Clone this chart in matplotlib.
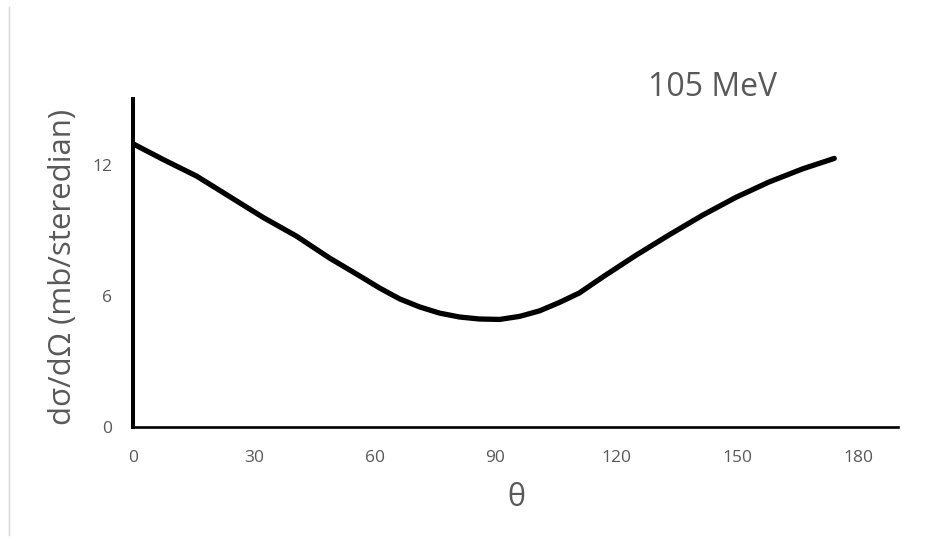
import matplotlib
matplotlib.use("Agg")
import matplotlib.pyplot as plt
from matplotlib.lines import Line2D

plt.rcParams['font.family'] = ['Open Sans', 'DejaVu Sans']

theta = [0, 7.5, 15.8, 24.1, 32.3, 40.6, 48.8, 57.1, 61.2, 66.2, 71.2, 76.1, 81.1, 86.0,
         91.0, 96.0, 100.9, 105.9, 110.8, 116.6, 124.9, 133.2, 141.4, 149.7, 157.9, 166.2, 174.1]
dsigma = [12.95, 12.23, 11.47, 10.52, 9.58, 8.72, 7.72, 6.81, 6.35, 5.85, 5.48, 5.20, 5.02, 4.93,
          4.91, 5.05, 5.30, 5.69, 6.12, 6.85, 7.85, 8.79, 9.68, 10.50, 11.20, 11.80, 12.28]
xticks = [0, 30, 60, 90, 120, 150, 180]
yticks = [0, 6, 12]
title = "105 MeV"
xlabel = "θ"
ylabel = "dσ/dΩ (mb/steredian)"

W, H = 933, 549
fig = plt.figure(figsize=(W / 100, H / 100), dpi=100)
ax = fig.add_axes([133 / W, 1 - 426.7 / H, (898.3 - 133) / W, (426.7 - 99) / H])

ax.plot(theta, dsigma, color='black', lw=3.8, solid_capstyle='round', solid_joinstyle='round')

ax.set_xlim(0, 190)
ax.set_ylim(0, 15)
ax.set_xticks(xticks)
ax.set_yticks(yticks)
ax.tick_params(axis='both', length=0, labelsize=12.5, labelcolor='#595959')
ax.tick_params(axis='x', pad=16.5)
ax.tick_params(axis='y', pad=15)
for s in ['top', 'right']:
    ax.spines[s].set_visible(False)
ax.spines['left'].set_linewidth(2.9)
ax.spines['bottom'].set_linewidth(1.9)
ax.spines['left'].set_color('black')
ax.spines['bottom'].set_color('black')

fig.text(713 / W, 1 - 87 / H, title, ha='center', va='center', fontsize=23, color='#595959')
fig.text(516 / W, 1 - 498 / H, xlabel, ha='center', va='center', fontsize=22, color='#595959')
fig.text(63 / W, 1 - 266.5 / H, ylabel, ha='center', va='center', rotation=90, fontsize=22.5, color='#595959')

fig.add_artist(Line2D([8.5 / W, 8.5 / W], [1 - 7 / H, 1 - 535 / H], color='#d9d9d9', lw=1,
                      transform=fig.transFigure))

fig.savefig('out.png', dpi=100)
